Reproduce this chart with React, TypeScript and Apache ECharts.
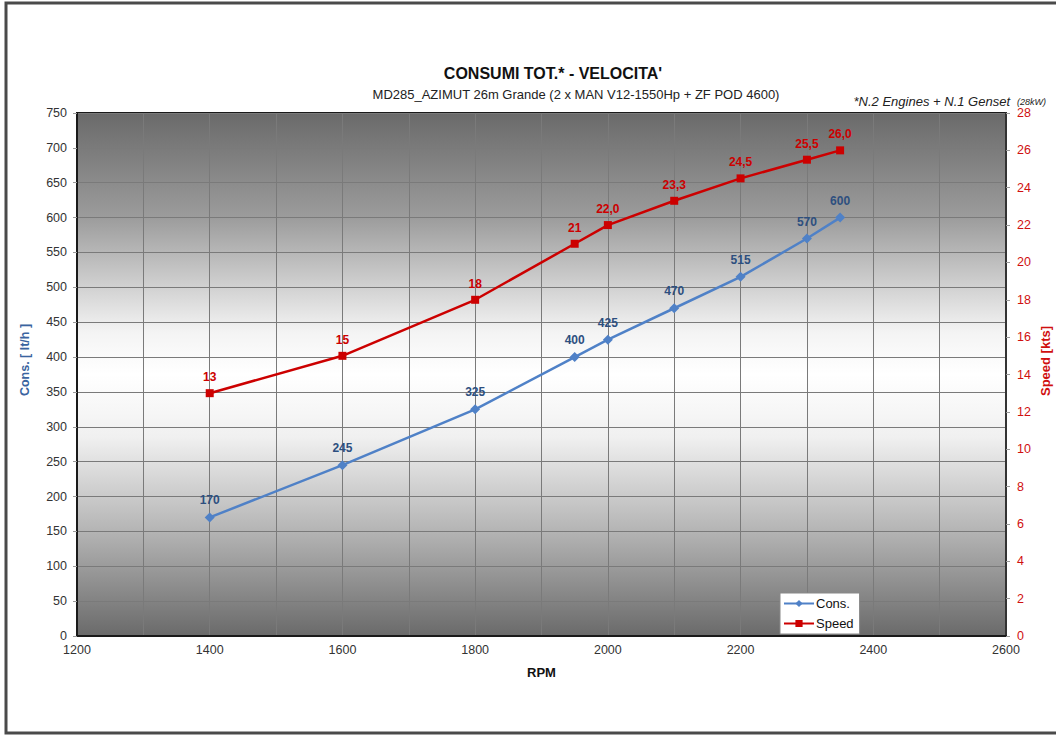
import React, { useEffect, useRef } from "react";
import * as echarts from "echarts";

const rpm = [1400, 1600, 1800, 1950, 2000, 2100, 2200, 2300, 2350];
const consValues = [170, 245, 325, 400, 425, 470, 515, 570, 600];
const speedValues = [13, 15, 18, 21, 22.0, 23.3, 24.5, 25.5, 26.0];
const speedLabels = ["13", "15", "18", "21", "22,0", "23,3", "24,5", "25,5", "26,0"];

const FONT = "Liberation Sans, Arial, sans-serif";

export default function App() {
  const ref = useRef<HTMLDivElement>(null);
  useEffect(() => {
    if (!ref.current) return;
    const chart = echarts.init(ref.current, null, { renderer: "svg" });
    const option = {
      animation: false,
      backgroundColor: "#ffffff",
      textStyle: { fontFamily: FONT },
      graphic: [
        {
          type: "rect",
          shape: { x: 6, y: 3, width: 1070, height: 730 },
          style: { fill: "none", stroke: "#4a4a4a", lineWidth: 3 },
          silent: true,
        },
        {
          type: "text",
          x: 553,
          y: 73,
          style: {
            text: "CONSUMI TOT.* - VELOCITA'",
            font: `bold 16px ${FONT}`,
            fill: "#111",
            textAlign: "center",
            textVerticalAlign: "middle",
          },
        },
        {
          type: "text",
          x: 576,
          y: 94,
          style: {
            text: "MD285_AZIMUT 26m Grande (2 x MAN V12-1550Hp + ZF POD 4600)",
            font: `13px ${FONT}`,
            fill: "#222",
            textAlign: "center",
            textVerticalAlign: "middle",
          },
        },
        {
          type: "text",
          x: 1010,
          y: 101,
          style: {
            text: "*N.2 Engines + N.1 Genset",
            font: `italic 13px ${FONT}`,
            fill: "#222",
            textAlign: "right",
            textVerticalAlign: "middle",
          },
        },
        {
          type: "text",
          x: 1017,
          y: 102,
          style: {
            text: "(28kW)",
            font: `italic 9px ${FONT}`,
            fill: "#222",
            textAlign: "left",
            textVerticalAlign: "middle",
          },
        },
        {
          type: "text",
          x: 25,
          y: 360,
          rotation: Math.PI / 2,
          style: {
            text: "Cons. [ lt/h ]",
            font: `bold 12.5px ${FONT}`,
            fill: "#3a64a0",
            textAlign: "center",
            textVerticalAlign: "middle",
          },
        },
        {
          type: "text",
          x: 1045,
          y: 361,
          rotation: Math.PI / 2,
          style: {
            text: "Speed [kts]",
            font: `bold 13px ${FONT}`,
            fill: "#d01010",
            textAlign: "center",
            textVerticalAlign: "middle",
          },
        },
      ],
      legend: {
        left: 780,
        top: 593,
        orient: "vertical",
        backgroundColor: "#ffffff",
        borderColor: "#888",
        borderWidth: 1,
        borderRadius: 0,
        padding: [4, 6, 4, 3],
        itemGap: 7,
        itemWidth: 30,
        itemHeight: 9,
        textStyle: { fontSize: 13, color: "#111", fontFamily: FONT, padding: [0, 0, 0, -3] },
        data: ["Cons.", "Speed"],
      },
      grid: {
        left: 77,
        top: 113,
        right: 50,
        bottom: 99,
        show: true,
        outerBoundsMode: "none",
        borderColor: "#1a1a1a",
        borderWidth: 2,
        backgroundColor: {
          type: "linear",
          x: 0,
          y: 0,
          x2: 0,
          y2: 1,
          colorStops: [
            { offset: 0, color: "#6a6a6a" },
            { offset: 0.2, color: "#9c9c9c" },
            { offset: 0.42, color: "#f4f4f4" },
            { offset: 0.5, color: "#ffffff" },
            { offset: 0.62, color: "#f0f0f0" },
            { offset: 0.8, color: "#b4b4b4" },
            { offset: 1, color: "#6a6a6a" },
          ],
        },
        containLabel: false,
      },
      xAxis: {
        type: "value",
        min: 1200,
        max: 2600,
        interval: 100,
        name: "RPM",
        nameLocation: "middle",
        nameGap: 30,
        nameTextStyle: { fontWeight: "bold", fontSize: 13, color: "#111", fontFamily: FONT },
        axisLine: { show: true, lineStyle: { color: "#1a1a1a", width: 2 } },
        axisTick: { show: false },
        axisLabel: {
          color: "#333",
          fontSize: 12.5,
          margin: 7,
          fontFamily: FONT,
          formatter: (v: number) => (v % 200 === 0 ? String(v) : ""),
        },
        splitLine: { show: true, lineStyle: { color: "#7a7a7a", width: 1 } },
      },
      yAxis: [
        {
          type: "value",
          min: 0,
          max: 750,
          interval: 50,
          position: "left",
          axisLine: { show: true, lineStyle: { color: "#1a1a1a", width: 2 } },
          axisTick: { show: true, length: 4, lineStyle: { color: "#999" } },
          axisLabel: { color: "#333", fontSize: 12.5, margin: 10, fontFamily: FONT },
          splitLine: { show: true, lineStyle: { color: "#7a7a7a", width: 1 } },
        },
        {
          type: "value",
          min: 0,
          max: 28,
          interval: 2,
          position: "right",
          axisLine: { show: true, lineStyle: { color: "#333", width: 2 } },
          axisTick: { show: true, length: 4, lineStyle: { color: "#999" } },
          axisLabel: { color: "#d01010", fontSize: 12.5, margin: 11, fontFamily: FONT },
          splitLine: { show: false },
        },
      ],
      series: [
        {
          name: "Cons.",
          type: "line",
          yAxisIndex: 0,
          data: rpm.map((r, i) => [r, consValues[i]]),
          symbol: "diamond",
          symbolSize: 10,
          lineStyle: { color: "#4f81c7", width: 2.5 },
          itemStyle: { color: "#4f81c7" },
          label: {
            show: true,
            position: "top",
            distance: 6,
            color: "#2d4f7f",
            fontWeight: "bold",
            fontSize: 12,
            fontFamily: FONT,
            formatter: (p: any) => String(consValues[p.dataIndex]),
          },
          z: 3,
        },
        {
          name: "Speed",
          type: "line",
          yAxisIndex: 1,
          data: rpm.map((r, i) => [r, speedValues[i]]),
          symbol: "rect",
          symbolSize: 8,
          lineStyle: { color: "#cc0000", width: 2.5 },
          itemStyle: { color: "#cc0000" },
          label: {
            show: true,
            position: "top",
            distance: 6,
            color: "#cc0000",
            fontWeight: "bold",
            fontSize: 12,
            fontFamily: FONT,
            formatter: (p: any) => speedLabels[p.dataIndex],
          },
          z: 4,
        },
      ],
    };
    chart.setOption(option as any);
    return () => chart.dispose();
  }, []);
  return (
    <div
      ref={ref}
      style={{ position: "fixed", left: 0, top: 0, width: 1056, height: 735 }}
    />
  );
}
